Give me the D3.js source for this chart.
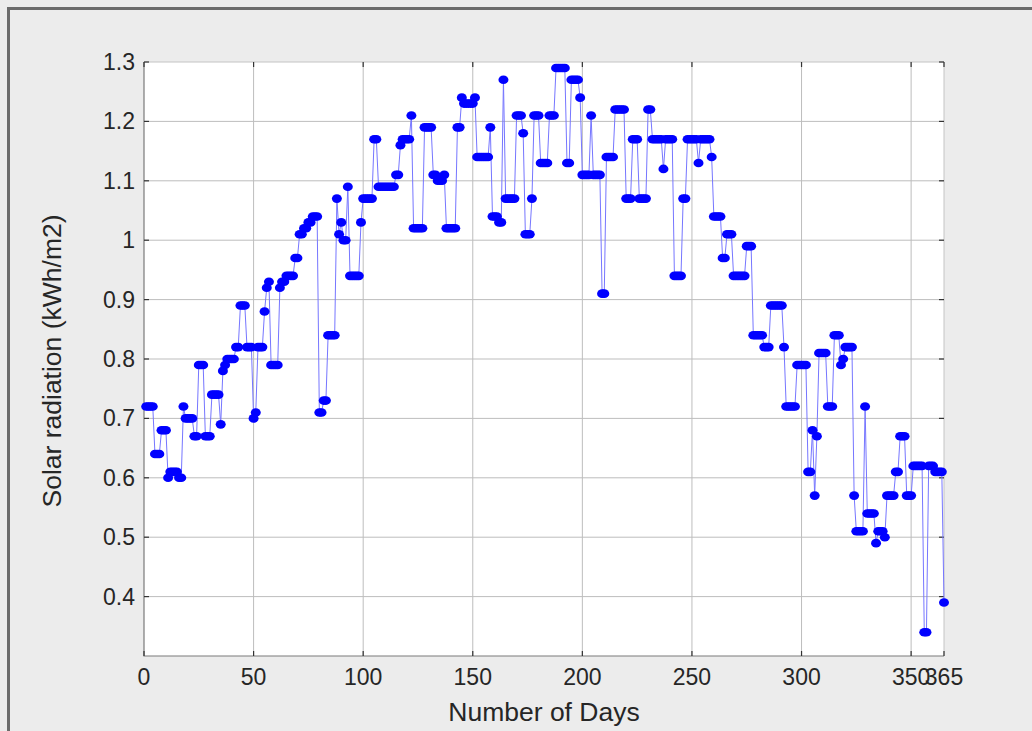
<!DOCTYPE html>
<html>
<head>
<meta charset="utf-8">
<script src="https://cdn.jsdelivr.net/npm/d3@7"></script>
<style>
  body { margin: 0; background: #fff; }
  svg { display: block; font-family: "Liberation Sans", Arial, sans-serif; }
</style>
</head>
<body>
<svg id="chart" width="1032" height="731"></svg>
<script>
// daily solar radiation, days 1..365 (kWh/m2)
const radiation = [
  0.72, 0.72, 0.72, 0.72, 0.64, 0.64, 0.64, 0.68, 0.68, 0.68,
  0.60, 0.61, 0.61, 0.61, 0.61, 0.60, 0.60, 0.72, 0.70, 0.70,
  0.70, 0.70, 0.67, 0.67, 0.79, 0.79, 0.79, 0.67, 0.67, 0.67,
  0.74, 0.74, 0.74, 0.74, 0.69, 0.78, 0.79, 0.80, 0.80, 0.80,
  0.80, 0.82, 0.82, 0.89, 0.89, 0.89, 0.82, 0.82, 0.82, 0.70,
  0.71, 0.82, 0.82, 0.82, 0.88, 0.92, 0.93, 0.79, 0.79, 0.79,
  0.79, 0.92, 0.93, 0.93, 0.94, 0.94, 0.94, 0.94, 0.97, 0.97,
  1.01, 1.01, 1.02, 1.02, 1.03, 1.03, 1.04, 1.04, 1.04, 0.71,
  0.71, 0.73, 0.73, 0.84, 0.84, 0.84, 0.84, 1.07, 1.01, 1.03,
  1.00, 1.00, 1.09, 0.94, 0.94, 0.94, 0.94, 0.94, 1.03, 1.07,
  1.07, 1.07, 1.07, 1.07, 1.17, 1.17, 1.09, 1.09, 1.09, 1.09,
  1.09, 1.09, 1.09, 1.09, 1.11, 1.11, 1.16, 1.17, 1.17, 1.17,
  1.17, 1.21, 1.02, 1.02, 1.02, 1.02, 1.02, 1.19, 1.19, 1.19,
  1.19, 1.11, 1.11, 1.10, 1.10, 1.10, 1.11, 1.02, 1.02, 1.02,
  1.02, 1.02, 1.19, 1.19, 1.24, 1.23, 1.23, 1.23, 1.23, 1.23,
  1.24, 1.14, 1.14, 1.14, 1.14, 1.14, 1.14, 1.19, 1.04, 1.04,
  1.04, 1.03, 1.03, 1.27, 1.07, 1.07, 1.07, 1.07, 1.07, 1.21,
  1.21, 1.21, 1.18, 1.01, 1.01, 1.01, 1.07, 1.21, 1.21, 1.21,
  1.13, 1.13, 1.13, 1.13, 1.21, 1.21, 1.21, 1.29, 1.29, 1.29,
  1.29, 1.29, 1.13, 1.13, 1.27, 1.27, 1.27, 1.27, 1.24, 1.11,
  1.11, 1.11, 1.11, 1.21, 1.11, 1.11, 1.11, 1.11, 0.91, 0.91,
  1.14, 1.14, 1.14, 1.14, 1.22, 1.22, 1.22, 1.22, 1.22, 1.07,
  1.07, 1.07, 1.17, 1.17, 1.17, 1.07, 1.07, 1.07, 1.07, 1.22,
  1.22, 1.17, 1.17, 1.17, 1.17, 1.17, 1.12, 1.17, 1.17, 1.17,
  1.17, 0.94, 0.94, 0.94, 0.94, 1.07, 1.07, 1.17, 1.17, 1.17,
  1.17, 1.17, 1.13, 1.17, 1.17, 1.17, 1.17, 1.17, 1.14, 1.04,
  1.04, 1.04, 1.04, 0.97, 0.97, 1.01, 1.01, 1.01, 0.94, 0.94,
  0.94, 0.94, 0.94, 0.94, 0.99, 0.99, 0.99, 0.84, 0.84, 0.84,
  0.84, 0.84, 0.82, 0.82, 0.82, 0.89, 0.89, 0.89, 0.89, 0.89,
  0.89, 0.82, 0.72, 0.72, 0.72, 0.72, 0.72, 0.79, 0.79, 0.79,
  0.79, 0.79, 0.61, 0.61, 0.68, 0.57, 0.67, 0.81, 0.81, 0.81,
  0.81, 0.72, 0.72, 0.72, 0.84, 0.84, 0.84, 0.79, 0.80, 0.82,
  0.82, 0.82, 0.82, 0.57, 0.51, 0.51, 0.51, 0.51, 0.72, 0.54,
  0.54, 0.54, 0.54, 0.49, 0.51, 0.51, 0.51, 0.50, 0.57, 0.57,
  0.57, 0.57, 0.61, 0.61, 0.67, 0.67, 0.67, 0.57, 0.57, 0.57,
  0.62, 0.62, 0.62, 0.62, 0.62, 0.34, 0.34, 0.62, 0.62, 0.62,
  0.61, 0.61, 0.61, 0.61, 0.39
]
const days = radiation.map((v, i) => i + 1)
const xTicks = [0, 50, 100, 150, 200, 250, 300, 350, 365]
const yTicks = [0.4, 0.5, 0.6, 0.7, 0.8, 0.9, 1.0, 1.1, 1.2, 1.3]

const svg = d3.select('#chart')
const W = 1032, H = 731
const margin = {left: 144, top: 62, right: 88, bottom: 75}
const iw = W - margin.left - margin.right
const ih = H - margin.top - margin.bottom

// figure background + window frame
svg.append('rect').attr('width', W).attr('height', H).attr('fill', '#ececec')
svg.append('path')
  .attr('d', `M8.5,${H} V8.5 H${W}`)
  .attr('fill', 'none').attr('stroke', '#6b6b6b').attr('stroke-width', 3)

const x = d3.scaleLinear().domain([0, 365]).range([0, iw])
const y = d3.scaleLinear().domain([0.3, 1.3]).range([ih, 0])

const g = svg.append('g').attr('transform', `translate(${margin.left},${margin.top})`)
g.append('rect').attr('width', iw).attr('height', ih).attr('fill', '#fff')

// grid
g.append('g').selectAll('line').data(xTicks.slice(1, -1)).join('line')
  .attr('x1', (d) => x(d)).attr('x2', (d) => x(d))
  .attr('y1', 0).attr('y2', ih)
  .attr('stroke', '#bdbdbd').attr('stroke-width', 1)
g.append('g').selectAll('line').data(yTicks.slice(0, -1)).join('line')
  .attr('x1', 0).attr('x2', iw)
  .attr('y1', (d) => y(d)).attr('y2', (d) => y(d))
  .attr('stroke', '#bdbdbd').attr('stroke-width', 1)

// box: top/right light, left/bottom darker
g.append('path').attr('d', `M0,0 H${iw} V${ih}`)
  .attr('fill', 'none').attr('stroke', '#c4c4c4').attr('stroke-width', 1)
g.append('path').attr('d', `M0,0 V${ih} H${iw}`)
  .attr('fill', 'none').attr('stroke', '#7a7a7a').attr('stroke-width', 1.2)

// inward ticks on all four sides
const tickLen = 5
const ticks = g.append('g').attr('stroke', '#333').attr('stroke-width', 1.2)
xTicks.forEach((t) => {
  ticks.append('line').attr('x1', x(t)).attr('x2', x(t)).attr('y1', ih).attr('y2', ih - tickLen)
  ticks.append('line').attr('x1', x(t)).attr('x2', x(t)).attr('y1', 0).attr('y2', tickLen)
})
yTicks.forEach((t) => {
  ticks.append('line').attr('x1', 0).attr('x2', tickLen).attr('y1', y(t)).attr('y2', y(t))
  ticks.append('line').attr('x1', iw).attr('x2', iw - tickLen).attr('y1', y(t)).attr('y2', y(t))
})

// tick labels (350 and 365 overlap in the original too)
g.append('g').selectAll('text').data(xTicks).join('text')
  .attr('x', (d) => x(d)).attr('y', ih + 29)
  .attr('text-anchor', 'middle')
  .style('font-size', '23px').style('fill', '#262626')
  .text((d) => d)
g.append('g').selectAll('text').data(yTicks).join('text')
  .attr('x', -9).attr('y', (d) => y(d) + 8)
  .attr('text-anchor', 'end')
  .style('font-size', '23px').style('fill', '#262626')
  .text((d) => d3.format('~g')(d))

// axis titles
svg.append('text')
  .attr('x', margin.left + iw / 2).attr('y', 721)
  .attr('text-anchor', 'middle')
  .style('font-size', '26.5px').style('fill', '#262626')
  .text('Number of Days')
svg.append('text')
  .attr('transform', `translate(61,${margin.top + ih / 2 + 2}) rotate(-90)`)
  .attr('text-anchor', 'middle')
  .style('font-size', '26.5px').style('fill', '#262626')
  .text('Solar radiation (kWh/m2)')

// series
const line = d3.line().x((d, i) => x(days[i])).y((d) => y(d))
g.append('path').datum(radiation)
  .attr('d', line)
  .attr('fill', 'none').attr('stroke', '#7676ff').attr('stroke-width', 1)

g.append('g').selectAll('ellipse').data(radiation).join('ellipse')
  .attr('cx', (d, i) => x(days[i])).attr('cy', (d) => y(d))
  .attr('rx', 5).attr('ry', 4.3)
  .attr('fill', '#0000ff')
</script>
</body>
</html>
